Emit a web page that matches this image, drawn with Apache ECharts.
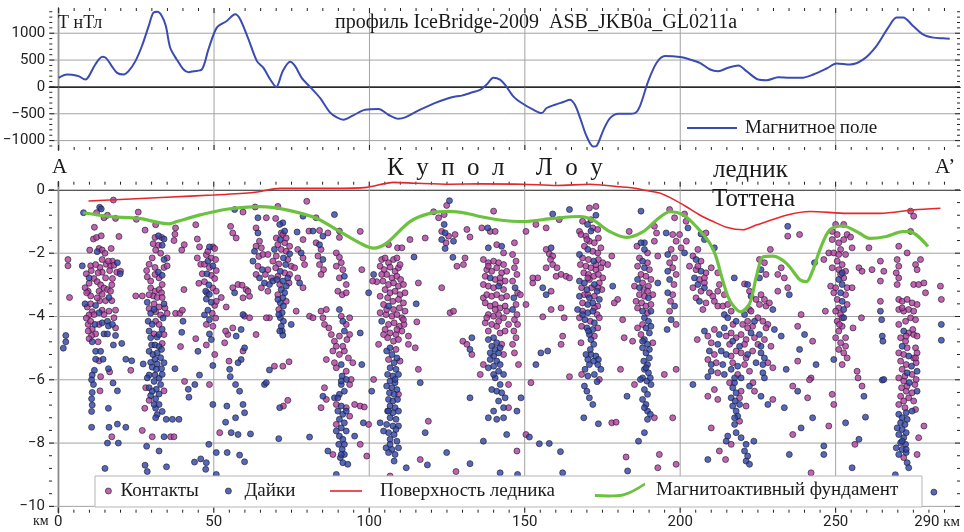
<!DOCTYPE html>
<html><head><meta charset="utf-8">
<script src="https://cdn.jsdelivr.net/npm/echarts@6/dist/echarts.min.js"></script>
<style>html,body{margin:0;padding:0;background:#fff}#c{width:964px;height:532px}</style>
</head><body><div id="c"></div>
<script>
// ---------------- data ----------------
const magKm = [0,2.7,4.3,6.4,8.6,9.6,11.8,14.1,15.3,17.1,18.8,20.9,22.5,24.7,26.8,29,30.5,31.8,33.2,34.5,35.9,38,40.2,41.8,43.4,46.1,48.2,50.9,54.1,56.8,58.4,61.1,63.8,65.9,68.1,70,72.1,74.5,76.1,78.2,80.9,84.1,87.3,89.5,91.6,94.8,98.6,102.9,106.1,109.3,111.5,115.2,120.6,125.4,128.1,129.7,132.4,135.6,137.7,139.9,142,143.6,146.3,149,152.7,155.4,157,159.7,162.4,164.5,166.1,167.8,169.9,172,173.1,175.3,177.4,180.1,183.3,185.4,187,189.7,192.4,195.1,199.9,203.1,206.3,209.6,212.2,215.4,218.7,221.3,225.1,227.8,231.5,235.3,239,242.8,247.1,250.3,254.6,258.9,263.1,266.9,269.6,271.7,274.9,278.1,281.4,284.6,286.7];
const magNT = [169,231,225,200,137,187,418,562,537,387,262,231,293,481,762,1136,1385,1398,1323,1136,730,512,324,275,293,325,699,1105,1229,1354,1261,886,481,356,137,0,293,468,387,169,0,-206,-474,-568,-612,-530,-424,-412,-518,-593,-568,-456,-312,-212,-175,-162,-112,-56,44,169,137,44,-175,-300,-424,-487,-393,-331,-281,-237,-331,-580,-924,-1111,-1098,-799,-580,-499,-499,-487,-362,106,449,574,556,512,449,324,293,356,399,293,137,125,181,169,169,231,343,437,418,512,762,1105,1292,1292,1136,980,918,905,899];

const surfKm = [9.7,34.8,49.8,62.7,71.3,88.4,99.2,107.7,115.2,125.9,135.6,149.5,160.2,170.9,180.6,184.9,189.1,193.4,197.7,202,206.3,210.6,214.9,220.2,224.5,234.4,241.9,253.7,264.4,275.1,283.7];
const surfDepth = [-0.35,-0.23,-0.16,-0.08,0.05,0.05,0.08,0.24,0.21,0.18,0.19,0.18,0.14,0.18,0.10,0.06,-0.02,-0.1,-0.29,-0.53,-0.79,-1.0,-1.18,-1.26,-1.11,-0.79,-0.68,-0.74,-0.74,-0.63,-0.58];

const baseKm = [8.0,16.6,25.9,35.6,38.1,45.6,54.1,64.9,73.4,83.1,90.6,97.0,101.3,105.6,113.1,119.5,125.9,131.3,135.6,142,149.5,159.1,167.7,172,177.4,182.8,188.1,192.4,196.7,201,205.2,209.5,211.5,213.5,216,219.5,222.4,224.5,226.7,229.9,234.2,238.5,240.6,242.7,244.9,248.1,252.4,257.7,260.9,266.3,271.6,273.8,279.7];
const baseDepth = [-0.72,-0.84,-0.9,-1.07,-1.0,-0.79,-0.61,-0.53,-0.63,-0.9,-1.32,-1.68,-1.84,-1.68,-1.0,-0.74,-0.68,-0.74,-0.84,-0.95,-1.0,-0.9,-0.84,-0.95,-1.32,-1.5,-1.32,-0.95,-0.69,-0.79,-1.16,-1.68,-2.1,-2.8,-3.5,-3.85,-3.58,-2.74,-2.11,-2.09,-2.32,-2.84,-2.9,-2.53,-1.9,-1.26,-1.14,-1.37,-1.53,-1.47,-1.32,-1.32,-1.79];

const contacts = [
[3.1,-2.2],[3.1,-2.4],[3.6,-3.4],
[17.7,-0.32],[12.3,-0.72],[14.7,-0.88],[15.8,-0.8],[11.6,-1.18],[18.4,-0.9],[19.5,-1.47],
[11.3,-1.55],[12.3,-1.5],[13.8,-1.45],[10.1,-1.9],[13.1,-1.85],[14.1,-1.9],[15,-2.0],[17,-1.85],
[10.4,-2.4],[10.6,-2.55],[9,-2.65],[9.9,-2.95],[13.4,-2.45],[14.1,-2.6],[15.4,-2.35],[16.8,-2.4],[17.4,-2.25],[16.5,-2.55],[17.4,-2.8],[18.8,-2.6],[11.5,-2.8],[12.5,-2.9],[13.6,-3],[14.7,-3.1],[13.1,-3.2],[14.1,-3.3],[15.8,-3.15],[16.8,-3.2],[17.2,-3],[9.6,-3.2],[10.4,-3.35],[9.3,-3.7],[10.4,-3.6],[10.9,-3.85],[9.9,-3.95],[13.3,-3.5],[14.1,-3.8],[15.2,-3.5],[17.2,-3.5],[18.4,-3.8],
[9,-4.05],[9.6,-4.25],[10.4,-4.15],[10.9,-4.4],[13.1,-4.25],[12,-4.55],[10.7,-4.6],[12.8,-4.8],[9.9,-4.7],[13.1,-5.4],[13.6,-5.9],[16.5,-5.75],[13.4,-6.35],[23.3,-5.7],[17.2,-7.8],
[8.6,-3.09],[9.1,-3.25],[12,-2.36],[12.8,-2.62],[14.1,-2.2],[16.1,-2.25],[17.9,-2.38],[20,-2.57],[15.2,-2.78],[12.5,-3.41],[11.5,-3.94],[14.7,-3.94],[16.3,-3.83],[17.9,-4.04],[18.4,-4.36],[9.6,-4.46],
[25.7,-0.7],[25.1,-0.93],[27.9,-1.27],[31.3,-1.1],[31.1,-1.5],[33.2,-1.5],[30.5,-1.7],[32.2,-1.75],[31.3,-1.9],[32.9,-2],[30.2,-2.15],[35,-2.15],[29.2,-2.35],[28.4,-2.55],[31.1,-2.45],[34,-2.45],[35,-2.4],[28.6,-2.75],[29.7,-3.1],[31.1,-3.2],[32.4,-3.15],[33.2,-3.25],[30.5,-3.35],[31.8,-3.4],[33.4,-3.4],[27,-3.35],[29.2,-3.75],[30.8,-3.6],[32.4,-3.7],[35,-3.9],[31.3,-3.85],[32.9,-3.95],[24.9,-3.35],[37.7,-3.9],[31.3,-4.15],[32.4,-4.25],[30.8,-4.55],[33.4,-4.85],[28.1,-6.25],[34,-6.35],[27.8,-6.9],[29.2,-6.65],[27,-7.6],[30.2,-7.8],[36.1,-7.8],[37.2,-7.8],
[29.2,-3.31],[33.4,-2.99],[32.4,-2.78],[31.1,-2.67],[29.7,-2.88],[34.3,-3.73],[34,-4.57],
[40.5,-1.73],[37.7,-1.2],[37.5,-1.4],[37.2,-1.6],[39.7,-1.9],[44.2,-1.1],[44.7,-1.55],[45.4,-1.8],[44.7,-2.15],[45.8,-2.35],[46.3,-2.65],[45.2,-2.95],[40.4,-3.15],[39.1,-3.9],[39.9,-3.8],[39.3,-4.95],[44.2,-4.7],[40.6,-6.05],
[49.7,-1.8],[50.3,-1.85],[47.6,-2.05],[49.2,-2.15],[47,-2.35],[48.6,-2.45],[50.8,-2.55],[49.2,-2.7],[50.3,-2.8],[47,-2.9],[49.7,-3.1],[50.8,-3.2],[52.4,-3.4],[50.3,-3.65],[49.5,-3.9],[50.6,-4.05],[47.6,-4.25],[47.6,-4.9],[50.3,-5.2],[48.6,-6.15],
[48.1,-1.94],[50.6,-2.2],[47.8,-3.25],[50.8,-3.52],[49.7,-4.31],
[59.4,-0.7],[63.3,-0.54],[70.6,-0.52],[79.9,-0.36],[82.9,-0.88],[55.4,-1.15],[56.1,-1.36],[57.2,-1.52],[66.9,-0.88],[69.9,-0.9],[71.7,-1.36],[78.7,-1.57],[84,-1.28],[80.6,-1.3],[90.4,-1.5],[90.4,-1.3],
[63.6,-1.2],[64.7,-1.62],[63.6,-1.78],[65.3,-1.83],[64.5,-2.1],[65.8,-2.04],[67.4,-2.04],[64.2,-2.41],[63.6,-2.67],[66.6,-2.67],[65.3,-3.09],[67.4,-3.2],
[72.2,-1.41],[72.8,-1.67],[70.6,-1.73],[71.7,-1.88],[73.3,-1.94],[70.1,-2.09],[73.8,-2.2],[69,-2.25],[70.9,-2.34],[74.9,-2.41],[76,-2.46],[72.8,-2.62],[70.6,-2.73],[71.2,-2.99],[70.6,-3.31],[70.9,-3.78],[67.9,-4.04],[66.9,-4.04],[68.5,-2.78],[67.4,-2.52],
[70.1,-1.52],[73.3,-1.52],[74.4,-1.78],[69.9,-2.46],[74.4,-2.67],[74.2,-2.94],[73.3,-3.52],
[77,-1.88],[78.7,-2.15],[79.2,-2.36],[77,-2.78],[78.7,-3.09],[76.5,-3.83],[80.8,-3.99],[81.9,-4.04],
[82.9,-1.67],[84.5,-1.88],[83.5,-2.09],[84,-2.36],[85.3,-2.52],[84.5,-2.67],[86.7,-1.36],[89.4,-1.99],[90.4,-2.13],[91,-2.3],[89.4,-2.41],[91.5,-2.52],[90.4,-2.78],[92.6,-2.99],[89.9,-3.2],[91.3,-3.31],[92.6,-3.25],[84.5,-3.83],[85.1,-4.04],[86.2,-3.78],[91,-3.99],[92.6,-4.25],[93.7,-4.04],[85.6,-4.25],[87,-4.36],[90.4,-4.62],[92.8,-4.73],[93.7,-4.57],[88.8,-4.78],[89.4,-4.94],[88.3,-5.09],[90.4,-5.2],[92,-5.09],[93.3,-5.31],[86.2,-5.36],[94.7,-5.46],[89.4,-5.62],[92.6,-5.73],[93.7,-6.15],[85.6,-6.25],[86.2,-6.62],[89.4,-6.78],[92.6,-6.88],[93.7,-7.15],[89.4,-7.41],[88.3,-8.36],[95.3,-6.78],[94.2,-5.99],[84.5,-6.88],
[88.8,-5.46],[91.5,-4.94],[87.8,-4.57],
[56.1,-3.09],[57.8,-2.99],[60.4,-3.15],[61.5,-3.36],[59.9,-3.99],[61.5,-4.04],[54.5,-4.57],[53.8,-4.46],[56.1,-4.36],[53.5,-4.83],[63.6,-4.57],[59.4,-5.09],[54.9,-5.41],[69.5,-5.57],[72.2,-5.57],[74.2,-5.43],[72.4,-6.83],[73.8,-6.65],[51.9,-7.67],[59.1,-3.01],[61,-3.2],[59.4,-3.41],[54,-3.7],
[97.1,-1.31],[106.2,-1.73],[109.1,-1.83],[110.5,-1.83],[113.1,-1.57],[118,-1.52],[120.7,-0.69],[122.3,-0.88],[124.1,-0.78],[124.9,-0.49],[123.3,-1.31],[125.5,-1.46],[124.7,-1.67],[127.6,-1.41],[131.4,-1.25],[136.2,-1.2],[140,-0.67],[138.9,-1.31],[140.5,-1.31],[141,-1.73],[143.2,-1.99],[132.4,-1.49],
[104,-2.2],[105.1,-2.15],[106.2,-2.3],[107.8,-2.2],[108.9,-2.15],[103.5,-2.41],[104.8,-2.52],[106.7,-2.44],[108.3,-2.57],[109.4,-2.46],[105.6,-2.67],[107.3,-2.78],[108.9,-2.73],[110.1,-2.83],[104.4,-2.88],[106.2,-2.99],[107.8,-2.94],[109.4,-3.04],[111,-2.99],[105.1,-3.15],[106.7,-3.25],[108.3,-3.2],[109.9,-3.31],[111.5,-3.25],[103.5,-3.36],[105.9,-3.41],[107.6,-3.52],[109.4,-3.46],[111,-3.57],[104.6,-3.62],[107.8,-3.78],[109.7,-3.73],[111.5,-3.83],[103.5,-3.88],[105.4,-3.94],[107.3,-3.99],[108.9,-3.94],[110.5,-4.04],[106.2,-4.25],[108,-4.2],[109.7,-4.31],[111.2,-4.25],[105.1,-4.41],[106.7,-4.52],[108.6,-4.57],[110.5,-4.46],[105.9,-4.67],[107.8,-4.78],[109.4,-4.73],[112.6,-4.62],[112.6,-4.88],[108.6,-5.04],[106.2,-5.36],[109.9,-5.41],[109.4,-6.46],[103,-4.88],[102.4,-2.9],[101.1,-2.88],[115.8,-2.94],[115.3,-4.17],[114.8,-4.99],[115.8,-5.67],[119,-7.31],[116.4,-8.52],[106.7,-9.04],[127.9,-8.9],[97.1,-8.04],[99.2,-8.41],[97.6,-2.52],[101.4,-5.99],[97.1,-6.83],[98.4,-6.86],[99.8,-7.41],
[104,-2.67],[109.9,-2.36],[105.6,-3.78],[111,-4.1],[104.6,-4.57],[108.9,-4.41],
[126,-3.88],[127.1,-3.83],[130.1,-4.78],[131.4,-4.88],[133,-5.2],[123.3,-3.09],[130.3,-2.36],[130.8,-2.15],[128.2,-2.41],[136.7,-3.41],
[136.7,-2.2],[138.3,-2.3],[140,-2.25],[141.6,-2.3],[143.2,-2.36],[137.8,-2.52],[139.4,-2.57],[141,-2.46],[142.6,-2.62],[144.2,-2.57],[137.3,-2.73],[140.5,-2.83],[142.1,-2.78],[143.7,-2.88],[136.7,-2.99],[138.3,-3.04],[140,-3.09],[143.2,-3.15],[137.8,-3.31],[139.4,-3.36],[141,-3.31],[142.6,-3.41],[144.2,-3.36],[137.3,-3.57],[138.9,-3.67],[140.5,-3.62],[142.1,-3.73],[143.7,-3.67],[138.3,-3.94],[140,-3.99],[141.6,-3.94],[143.2,-4.04],[137.3,-4.2],[139.4,-4.25],[141,-4.31],[144.8,-4.25],[138.3,-4.46],[142.1,-4.52],[143.7,-4.46],[142.6,-4.88],[143.2,-5.2],[136.7,-5.52],[135.7,-5.83],[144.8,-6.88],[144.8,-6.15],
[138.3,-2.41],[142.1,-2.94],[140.5,-3.78],[144.2,-3.83],[137.8,-4.04],[141.6,-4.15],
[146.7,-1.67],[146.1,-2.04],[147.2,-2.25],[146.7,-2.46],[147.5,-2.67],[146.1,-2.88],[147.7,-3.25],[147.2,-3.62],[147.5,-3.94],[146.7,-4.1],[147.7,-4.25],[146.5,-4.46],[147.2,-4.67],[146.1,-4.88],[146.7,-5.15],[148,-5.52],[148.6,-3.31],
[153.6,-1.09],[156.9,-1.2],[161.1,-0.94],[168.6,-0.99],[170.8,-0.57],[172.9,-0.52],[171.3,-0.94],[171.9,-1.2],[173.5,-1.25],[167.6,-1.31],[183.6,-1.31],[191.7,-1.15],[192.4,-1.36],[191.7,-1.62],[150.4,-1.31],
[156.9,-1.88],[157.9,-2.02],[159,-2.09],[158.3,-2.2],[156.9,-2.46],[159,-2.36],[160.4,-2.46],[161.7,-2.67],[160.1,-2.73],[163.3,-2.73],[164.4,-2.78],[154.2,-2.78],[152.6,-2.94],[158.5,-3.2],[161.7,-3.73],[158.5,-3.78],[150.4,-3.62],[155.8,-4.01],[162.7,-4.04],[162.2,-4.62],[161.7,-4.88],[164.4,-5.9],
[168.1,-1.41],[169.7,-1.46],[170.8,-1.62],[172.4,-1.67],[169.2,-1.78],[171.9,-1.94],[173.5,-1.99],[174.5,-1.83],[168.6,-2.15],[170.5,-2.2],[173.7,-2.2],[175.1,-2.3],[167.9,-2.36],[169.7,-2.41],[171.3,-2.46],[172.9,-2.52],[174.5,-2.46],[169,-2.62],[170.5,-2.67],[172.2,-2.73],[173.7,-2.67],[175.1,-2.78],[170.8,-2.83],[174,-2.94],[168.3,-3.09],[171.5,-3.09],[174.8,-3.15],[169.2,-3.31],[172.4,-3.36],[168.6,-3.57],[173.5,-3.67],[168.6,-3.83],[173.3,-3.94],[167.6,-4.04],[171.1,-4.15],[168.3,-4.31],[173.5,-4.36],[172.4,-4.62],[168.1,-4.83],[168.3,-5.83],[174,-5.99],[178,-7.36],[179.4,-7.34],[176.7,-2.36],[178,-2.09],[179.9,-3.46],[178.8,-3.57],[180.8,-5.67],[181.5,-4.1],[184.7,-4.78],[182,-4.67],
[170,-1.57],[173.7,-1.52],[172.9,-2.36],[170.3,-2.78],[173.5,-3.09],[170.3,-3.31],[172.4,-3.73],[174,-4.04],
[186.1,-1.78],[189.5,-1.99],[186.9,-2.15],[189.5,-2.3],[186.3,-2.41],[190.1,-2.52],[187.4,-2.67],[189,-2.73],[190.6,-2.83],[185.3,-3.04],[188.3,-3.15],[189.8,-3.04],[186.9,-3.31],[188.5,-3.36],[191.2,-3.31],[185.8,-3.52],[187.6,-3.57],[189,-3.67],[190.6,-3.62],[189.5,-3.88],[187.9,-4.25],[187.4,-4.57],[191.2,-4.83],[191.7,-7.2],[185.3,-6.15],[192.8,-2.09],[194.9,-5.83],[193.3,-8.36],[192.8,-8.78],[182.6,-8.44],[152,-6.09],[150.4,-7.73],[147.5,-8.25],[152.6,-2.78],
[187.9,-2.94],[189.5,-3.2],[186.3,-3.73],[186.3,-4.36],
[196.6,-0.62],[198.2,-0.88],[197.6,-1.41],[198.7,-1.62],[197.1,-1.88],[198.2,-2.15],[196.6,-2.3],[197.6,-2.46],[198.7,-2.67],[198,-2.99],[197.6,-3.31],[196.9,-3.52],[196.6,-3.83],[198.7,-4.25],[201.4,-0.76],[201.9,-0.99],[199.8,-1.41],[202,-1.62],[200.3,-1.83],[198.7,-5.67],[197.6,-7.2],[198.7,-8.67],
[208.3,-1.36],[205.7,-1.88],[229,-1.88],[234.6,-1.46],[238.4,-1.41],[238.9,-3.94],
[204.1,-2.09],[206.7,-2.25],[203,-2.41],[205.1,-2.52],[208.3,-2.62],[206.2,-2.83],[207.8,-2.78],[210,-2.46],[212.1,-2.62],[225.5,-2.2],[227.1,-2.3],[227.6,-2.67],[220.7,-2.97],[231.4,-2.67],[232.5,-2.46],[233.5,-2.78],[234.6,-3.09],[231.4,-3.2],
[204.1,-3.09],[206.7,-3.2],[209.4,-3.25],[210.5,-3.36],[212.1,-3.2],[205.1,-3.41],[208.3,-3.57],[211,-3.52],[212.1,-3.67],[213.7,-3.67],[215.3,-3.62],[207.3,-3.78],[222.3,-3.2],[224.4,-3.46],[226,-3.31],[227.1,-3.46],[225.5,-3.62],[227.6,-3.67],[228.7,-3.57],[222.3,-3.78],
[217,-4.25],[220.1,-4.25],[221.7,-4.15],[223.3,-4.31],[225,-4.04],[226.6,-4.15],[228.2,-4.25],[208.9,-4.62],[211,-4.41],[214.8,-4.62],[216.4,-4.52],[218,-4.67],[219.6,-4.57],[221.2,-4.73],[223.9,-4.67],[227.1,-4.73],[205.5,-4.73],[210,-4.83],[215.9,-4.88],[220.7,-4.88],[229.2,-4.94],
[211,-5.2],[216.4,-5.25],[218,-5.09],[219.6,-5.15],[223.3,-5.09],[208.9,-5.36],[211.6,-5.46],[216.9,-5.46],[220.7,-5.52],[228.2,-5.46],[212.1,-5.78],[218.5,-5.83],[229.8,-5.62],[237.8,-5.41],[242.1,-5.94],
[219.6,-6.36],[219.1,-6.57],[223.4,-6.09],[223.9,-6.36],[211,-6.31],[208.9,-6.52],[212.1,-6.62],[221.2,-6.83],[229.8,-6.62],[241.6,-6],
[219.1,-7.31],[216.4,-8.04],[212.6,-8.25],[214.6,-8.52],[236.2,-7.73],[242.1,-8.94],[210,-7.52],
[237.8,-4.31],[242.6,-4.78],[236.2,-6.2],[241,-6.57],
[205.7,-2.41],[207.8,-2.94],[212.6,-2.99],[214.2,-3.31],[216.4,-3.83],[222.8,-3.83],[227.6,-4.36],[221.7,-4.36],[225,-4.88],[221.2,-5.31],[222.3,-5.73],[215.9,-6.09],
[250,-1.09],[252.6,-1.09],[248.9,-1.31],[250.5,-1.41],[248.9,-1.57],[251,-1.67],[252.6,-1.57],[253.7,-1.41],[254.8,-1.49],[255.3,-1.83],[260.7,-1.83],[247.8,-1.99],[249.4,-1.99],[251.6,-1.88],[253.2,-2.04],[246.2,-2.2],[250.5,-2.25],[252.1,-2.36],[251,-2.52],[253.2,-2.57],[257.5,-2.46],[258.5,-2.57],[261.7,-2.52],[265.5,-2.57],[264.4,-2.88],[252.6,-2.78],[248.4,-3.04],[250,-3.09],[253.7,-3.09],[253.2,-3.31],[250.5,-3.46],[253.7,-3.62],[251,-3.73],[250,-3.83],[251.6,-3.94],[250.5,-4.15],[252.1,-4.31],[251,-4.46],[250,-4.67],[251.6,-4.83],[253.2,-4.94],[251,-5.04],[252.6,-5.15],[253.7,-5.31],[255.3,-3.09],[255.6,-4.36],[258.3,-4.04],[246.7,-3.83],[248.9,-6.46],[249.4,-6.78],[256.9,-5.73],[257.2,-5.94],[258.5,-6.2],[247.8,-7.46],[256.2,-8.04],[264.4,-3.52],[264.4,-2.25],
[251,-2.04],[248.9,-2.46],[251.6,-2.67],[249.4,-3.25],[252.1,-4.04],[251.2,-4.25],[253.2,-4.67],[252.1,-5.52],
[269.8,-2.2],[270.3,-2.41],[269.5,-2.62],[270.3,-2.78],[269.8,-2.99],[270.3,-3.46],[271.4,-3.52],[273,-3.46],[274.6,-3.57],[276.2,-3.62],[270.3,-3.78],[271.9,-3.83],[273.5,-3.78],[275.1,-3.83],[272.5,-4.15],[274.1,-4.04],[275.7,-4.1],[270.3,-4.25],[273.5,-4.52],[275.1,-4.57],[276.2,-4.62],[270.9,-4.67],[272.5,-4.78],[273,-4.99],[275.7,-4.99],[270.3,-5.15],[271.9,-5.2],[275.1,-5.31],[276.2,-5.15],[270.9,-5.41],[272.7,-5.52],[275.9,-5.46],[271.4,-5.67],[274.6,-5.83],[270.3,-5.94],[271.9,-6.04],[275.5,-6.15],[271.2,-6.25],[272.7,-6.36],[274.6,-6.41],[270.9,-6.52],[273.5,-6.57],[275.1,-6.67],[270.3,-6.78],[272.3,-6.88],[275.7,-6.94],[271.9,-8.46],[276.7,-7.83],[276.2,-8.36],[278.4,-7.46],
[271.4,-3.73],[274.8,-4.41],[272.7,-4.62],[275.7,-5.31],[272.3,-5.88],[275.9,-5.99],[273,-6.2],[271.9,-6.67],
[274.1,-0.67],[275.1,-0.83],[274.1,-1.31],[270.3,-1.78],[273,-1.99],[275.7,-2.36],[276.2,-2.52],[277.3,-2.2],[275.1,-2.99],[276.7,-2.99],[278.4,-2.94],[278.9,-3.25],
[283.7,-3.04],[284,-3.46]
];

const dikes = [
[2.4,-4.6],[2.4,-4.8],[1.6,-5.0],
[8.1,-0.72],[13.3,-0.55],[13.8,-0.6],[12.5,-1.95],[7.7,-2.4],[19.9,-2.65],[8.6,-3.6],[12,-3.65],[16.3,-3.4],
[11.8,-4.25],[14.1,-4.2],[15.8,-4.15],[16.1,-4.3],[14.7,-4.55],[15.8,-4.55],[10.9,-4.8],[18.4,-4.6],[20.4,-4.85],[17.7,-4.9],[12,-5.1],[13.6,-5.1],[14.4,-5.35],[12,-5.35],[11.6,-5.7],[10.9,-5.85],[10.7,-6],[16.1,-5.65],[11.3,-6.15],[10.9,-6.4],[10.7,-6.6],[10.9,-6.8],[19,-6.35],[17.6,-6.1],[21.7,-5.35],[23.6,-5.4],[10.7,-7],[16.1,-6.9],[10.7,-7.5],[16.3,-7.5],[19,-7.4],[21.7,-7.5],[15.8,-8],[19.3,-8],[15,-8.8],
[9.9,-2.78],[19,-2.3],[13.1,-3.88],[17.4,-4.25],
[32.2,-1.45],[34,-1.55],[33.4,-1.75],[34,-2.2],[32.2,-2.6],[33.4,-2.7],[28.6,-3.55],[34,-3.6],[29.7,-3.9],[33.7,-4.05],[28.9,-4.15],[30.2,-4.25],[33.4,-4.4],[31.8,-4.65],[30,-4.9],[31.1,-4.9],[32.4,-4.95],[29.2,-5.1],[30.4,-5.2],[31.8,-5.15],[32.9,-5.3],[31.1,-5.35],[29.7,-5.45],[30.2,-5.6],[31.8,-5.5],[33.2,-5.65],[27.3,-5.5],[29.2,-5.85],[31.1,-5.85],[32.4,-5.95],[30.8,-6.05],[29.2,-6.25],[31.5,-6.3],[32.4,-6.45],[29.7,-6.5],[31.3,-6.6],[31.3,-6.9],[31.8,-7.1],[37.5,-5.65],[34.7,-7.25],[36.7,-7.25],[38.8,-7.25],[34,-7.8],[28.4,-8.1],[32.4,-8.25],[27.9,-8.7],[28.6,-8.9],[34.8,-8.75],
[30.8,-3.78],[29.2,-4.46],[32.4,-4.57],[29.7,-4.67],[33.2,-5.04],[34,-5.46],[31.5,-5.67],[33.4,-5.83],[30.2,-6.36],[32.9,-6.15],[28.6,-5.94],[30.8,-6.78],[32.4,-6.78],[31.3,-7.2],[33.4,-7],
[40.1,-4.15],[39.7,-4.5],[44.9,-5.1],[41.8,-6.3],[43.9,-6.15],[42,-6.55],[45.4,-5.85],[43.8,-8.6],[45.8,-8.5],
[48.6,-1.8],[48.1,-2.25],[49.7,-2.4],[47.8,-2.65],[48.4,-3],[47.4,-3.2],[48.6,-3.3],[47.6,-3.45],[49.2,-3.55],[48.1,-3.8],[47,-3.95],[48.6,-4.1],[48.6,-4.55],[49.7,-5.55],[49.2,-4.73],
[56.7,-0.62],[78.7,-0.83],[88.8,-0.78],[64.2,-0.88],[72.2,-1.04],[72.8,-1.3],[76.8,-1.33],[81.9,-1.3],[85.1,-1.46],
[64.2,-1.36],[63.1,-1.94],[62.6,-2.25],[65.6,-2.52],[64.7,-2.78],[66.3,-2.94],[67.9,-2.99],[69,-2.88],
[71.2,-1.09],[71.4,-1.57],[69.5,-1.88],[74.4,-2.02],[72.4,-2.15],[73.1,-2.36],[71.4,-2.57],[73.8,-2.78],[72.2,-2.88],[73.3,-3.04],[71.7,-3.15],[72.8,-3.25],[72.2,-3.41],[71.4,-3.57],[72.4,-3.67],[72,-3.88],[71.4,-4.04],[72.4,-4.15],[71.7,-4.31],[72,-4.46],[72.2,-4.59],[74.9,-4.25],
[70.3,-2.83],[70.6,-3.46],[70.9,-3.94],[71.2,-4.46],
[78.1,-1.99],[77.6,-2.94],
[84,-1.73],[85.1,-2.2],[92,-2.73],[90.4,-3.78],[91.5,-4.15],[92,-4.46],[91,-5.52],[91.3,-5.88],[92.6,-5.99],[91,-6.15],[92,-6.36],[90.4,-6.46],[88.8,-6.57],[91,-6.83],[89.9,-6.99],[91.5,-7.09],[90.4,-7.25],[92,-7.36],[91,-7.52],[92.6,-7.62],[90.4,-7.78],[91.5,-7.88],[90.2,-8.04],[91.3,-8.2],[92,-8.36],[90.7,-8.46],[91.5,-8.62],[86.7,-8.25],[93.1,-8.67],[89.4,-8.99],[95.3,-7.78],[85.1,-6.52],
[91,-6.04],[89.9,-6.57],[92.6,-6.99],[89.4,-7.62],[92,-8.04],[91,-8.36],
[56.7,-3.25],[59.4,-3.94],[58.8,-4.41],[57.2,-4.62],[59.9,-4.99],[58.8,-5.36],[57.8,-5.46],[55.1,-5.67],[55.3,-5.9],[67.9,-5.69],[57,-6.15],[58.3,-6.36],[66.3,-6.15],[66.9,-6.09],[49.7,-6.78],[54.2,-6.83],[59.4,-6.78],[71.2,-6.88],[57,-7.2],[59.9,-7.04],[53.8,-7.34],[55.6,-7.67],[57.8,-7.73],[61.8,-7.71],[70.9,-7.86],[80.8,-7.81],[48.4,-8.04],[50.8,-8.3],[54.3,-8.3],[58.3,-8.38],[59.9,-8.59],[47.6,-8.62],[47.4,-8.83],[50.8,-8.99],
[114.4,-2.12],[125.8,-0.34],[124.1,-1.09],[124.4,-1.36],[123.3,-1.57],[127.1,-1.62],[124.4,-1.85],[138.1,-1.2],[138.3,-1.83],[142.6,-1.78],
[106.2,-3.67],[104,-4.15],[106.7,-4.99],[107.3,-5.2],[108.9,-5.31],[108,-5.46],[106.7,-5.62],[108.6,-5.67],[105.9,-5.83],[107.6,-5.88],[109.4,-5.83],[106.7,-6.04],[108.3,-6.09],[105.6,-6.2],[107.3,-6.25],[108.9,-6.31],[106.5,-6.41],[108,-6.46],[106.2,-6.62],[107.6,-6.67],[109.1,-6.62],[106.7,-6.83],[108.3,-6.88],[105.9,-6.99],[107.6,-7.04],[109.4,-6.99],[106.7,-7.2],[108.6,-7.25],[105.6,-7.41],[107.6,-7.46],[109.4,-7.46],[106.2,-7.67],[108,-7.73],[106.7,-7.88],[108.9,-7.94],[105.4,-8.15],[107.3,-8.2],[109.4,-8.15],[106.2,-8.3],[108.3,-8.36],[103.5,-7.36],[104.6,-7.62],[101.4,-2.67],[115.1,-3.6],[116.4,-6.09],[118,-7.67],[124.9,-8.3],[111.9,-8.78],[118.7,-8.69],[132.4,-8.65],[99.8,-3.25],[97.1,-4.52],[97.6,-5.52],[100.8,-6.36],[98.1,-7.36],
[105.6,-5.09],[108.3,-5.99],[106.2,-6.99],[108.6,-7.57],[106.7,-8.04],[108,-8.57],
[132.4,-5.04],[132.4,-6.57],[126.9,-2.13],[133,-4.67],
[138.9,-2.78],[141.6,-3.04],[140,-4.67],[141,-4.83],[139.4,-4.94],[140.5,-5.04],[141.6,-5.15],[140,-5.25],[138.9,-5.36],[141,-5.41],[142.1,-5.52],[140,-5.57],[138.3,-5.62],[141.6,-5.73],[143.2,-5.83],[140.5,-5.94],[139.4,-6.31],[141,-6.36],[142.6,-6.41],[143.7,-6.57],[141.6,-6.67],[143.2,-6.88],[140,-6.99],[138.3,-7.2],[141,-7.25],[143.2,-7.2],[136.7,-7.94],[144.2,-7.73],[142.1,-8.94],
[138.3,-4.73],[142.1,-4.99],[138.9,-5.15],[140,-5.83],[142.1,-6.15],
[146.9,-3.09],[146.5,-3.41],[146.1,-3.78],
[159,-0.76],[164.4,-0.62],[172.9,-0.8],[170.2,-1.09],[187.4,-0.67],[188.5,-1.67],
[158.5,-1.83],[155.8,-3.09],[156.9,-3.31],[157.4,-5.09],[155.2,-5.15],[153.6,-5.52],
[171.3,-1.3],[170.3,-1.88],[167.6,-2.04],[172.2,-2.25],[167.6,-2.88],[169.2,-2.94],[172.4,-2.99],[170,-3.15],[173.3,-3.2],[167.6,-3.36],[170.8,-3.41],[174,-3.46],[170.3,-3.62],[171.9,-3.57],[167,-3.78],[170.3,-3.88],[171.9,-3.83],[169.4,-4.1],[172.4,-4.2],[170,-4.36],[171.9,-4.41],[170.8,-4.57],[171.3,-4.73],[171.3,-5.2],[172.9,-5.25],[172.2,-5.41],[173.7,-5.36],[170.3,-5.36],[170.8,-5.52],[174.5,-5.67],[169.4,-5.67],[170.3,-5.88],[172.4,-5.83],[173.3,-6.06],[169.2,-6.2],[170,-6.36],[170.8,-6.57],[171.9,-6.78],[169,-7.2],[173.7,-7.39],[178.3,-3.04],[182.9,-6.52],
[168.6,-3.94],[170.5,-4.46],[172.2,-4.88],[171.1,-5.04],[169.7,-5.2],[173.5,-5.52],
[187.4,-1.67],[188.5,-1.88],[187.9,-2.25],[188.5,-2.46],[186.3,-2.83],[186.9,-3.09],[189.8,-3.41],[187.9,-3.83],[188.5,-4.04],[189.8,-4.15],[189,-4.36],[190.1,-4.52],[188.5,-4.73],[189.5,-4.88],[187.9,-4.99],[189,-5.15],[190.1,-5.31],[188.3,-5.41],[189.5,-5.52],[188.5,-5.67],[189.8,-5.78],[187.9,-5.94],[189.3,-6.04],[187.2,-5.99],[190.6,-6.15],[188.5,-6.31],[189.5,-6.46],[187.9,-6.62],[189,-6.78],[189.5,-6.99],[189.5,-7.25],[188.5,-7.67],[186.6,-7.94],[192.8,-2.94],[183.1,-8.88],[162.2,-8.94],[161.5,-8.27],[151.5,-7.81],[154.7,-8.02],[157.9,-8.01],[148.8,-6.57],[147.5,-6.99],[147.7,-8.99],
[190.6,-3.83],[190.6,-4.31],[187.9,-4.78],[190.1,-5.04],[189,-5.62],[190.4,-5.94],[188.5,-6.88],[190.4,-7.09],
[195.5,-1.36],[196,-2.04],[196,-2.57],[196.6,-2.83],[196,-3.25],[198.2,-3.67],[197.1,-4.1],[195.8,-4.41],[202.5,-1.2],[201.4,-1.99],
[206.7,-1.39],[207.8,-1.57],[211,-1.83],[217.4,-2.78],[234.6,-1.15],[243.2,-2.3],
[205.1,-2.2],[206.7,-2.57],[204.6,-2.78],[226,-2.52],[225.5,-2.78],[221.7,-2.99],[235.1,-3.31],
[205.7,-2.99],[207.8,-3.09],[206.2,-3.52],[222.8,-3.36],[229.8,-3.78],
[214.2,-3.94],[215.3,-4.04],[218,-4.15],[230.3,-4.41],[207.8,-4.46],[212.6,-4.57],[222.8,-4.52],[225.5,-4.57],[232.5,-4.62],[212.1,-4.88],[219.1,-4.94],[226,-4.94],
[209.4,-5.09],[213.2,-5.09],[221.7,-5.2],[226,-5.15],[227.1,-5.31],[210,-5.52],[213.7,-5.52],[218.5,-5.57],[224.4,-5.46],[226.6,-5.52],[210,-5.73],[208.9,-5.9],[214.2,-5.83],[219.6,-5.94],[226.6,-5.78],[227.1,-5.94],[234.1,-5.67],[238.4,-5.04],[204.1,-6.15],
[217.5,-6.09],[216.9,-6.25],[218,-6.41],[216.4,-6.57],[217.7,-6.67],[216.9,-6.83],[218,-6.99],[222.3,-6.2],[226,-6.52],[228.2,-6.78],[233.5,-6.88],[238.9,-7.52],
[218.5,-7.15],[217.5,-7.41],[218,-7.67],[215.3,-7.78],[214.8,-7.94],[220.7,-8.25],[221.7,-8.41],[221.2,-8.57],[222.3,-8.67],[208.9,-8.52],[223.7,-7.94],[235.1,-8.36],
[240,-4.57],[243.7,-5.52],[237.8,-6.36],[242.6,-7.2],
[220.7,-3.94],[223.9,-4.15],[214.2,-4.36],[216.9,-4.78],[214.8,-5.2],[216.4,-5.67],[217.5,-5.94],[219.1,-6.78],[217.5,-7.2],[219.6,-7.83],[221.2,-8.04],
[252.1,-2.62],[251,-2.83],[252.1,-2.99],[251.6,-3.25],[252.1,-3.52],[252.6,-3.78],[252.6,-4.04],[249.4,-5.36],[259.1,-6.52],[259.6,-7.18],[253.2,-7.36],[257.5,-7.88],[246.2,-8.09],[246.2,-8.36],[255.3,-8.78],[265,-6.01],[264.4,-3.83],[264.8,-4.1],[265,-4.62],[265.2,-4.78],[265.5,-5.99],
[271.9,-4.46],[271.4,-4.94],[273.5,-5.25],[274.4,-5.57],[273,-5.78],[276.2,-5.73],[273.7,-6.09],[276.2,-6.36],[270.3,-7.09],[271.4,-7.2],[272.7,-7.04],[270.9,-7.36],[272.3,-7.41],[269.8,-7.52],[271.4,-7.57],[272.7,-7.67],[270.3,-7.73],[271.9,-7.83],[270.9,-7.99],[272.5,-8.04],[269.5,-8.15],[271.4,-8.2],[272.7,-8.3],[270.3,-8.36],[273,-8.62],[273.5,-8.78],[269.2,-9],
[274.6,-6.99],[273,-7.25],[271.4,-7.94],[272.7,-8.2],
[284,-4.25],[284,-4.75],[281.6,-9.55]
];

// tick values / labels
const xMajorTicks = [0,50,100,150,200,250];
const xLabelValues = [0,50,100,150,200,250,290];
const xMinorTicks = [5,10,15,20,25,30,35,40,45,55,60,65,70,75,80,85,90,95,105,110,115,120,125,130,135,140,145,155,160,165,170,175,180,185,190,195,205,210,215,220,225,230,235,240,245,255,260,265,270,275,280,285];
const magMajorTicks = [-1000,-500,0,500,1000];
const magMinorTicks = [-1100,-900,-800,-700,-600,-400,-300,-200,-100,100,200,300,400,600,700,800,900,1100,1200,1300,1400];
const depthMajorTicks = [-10,-8,-6,-4,-2,0];
const depthMinorTicks = [-9.6,-9.2,-8.8,-8.4,-7.6,-7.2,-6.8,-6.4,-5.6,-5.2,-4.8,-4.4,-3.6,-3.2,-2.8,-2.4,-1.6,-1.2,-0.8,-0.4];

// ---------------- chart ----------------
const X_MIN = -3, X_MAX = 290;
const MAG_MIN = -1175, MAG_MAX = 1470;
const D_MIN = -10.2, D_MAX = 0.26;
const SERIF = '"Liberation Serif", "Times New Roman", serif';
const SANS = 'Roboto, "Liberation Sans", sans-serif';
const FRAME = '#222';
const minus = v => (v < 0 ? '\u2212' + Math.abs(v) : String(v));
const zip = (a, b) => a.map((v, i) => [v, b[i]]);

function frameRenderer(yMin, yMax, yMajor, yMinor, zeroDark) {
  return function (params, api) {
    const ch = [];
    const lb = api.coord([X_MIN, yMin]);
    const rt = api.coord([X_MAX, yMax]);
    const L = lb[0], B = lb[1], R = rt[0], T = rt[1];
    const add = (x1, y1, x2, y2, stroke, w) => ch.push({type: 'line', shape: {x1, y1, x2, y2}, style: {stroke, lineWidth: w}});
    xMajorTicks.forEach(v => {
      const x = api.coord([v, yMin])[0];
      add(x, B, x, T, '#a3a3a3', 1);
      add(x, B, x, B - 5, FRAME, 1);
      add(x, T, x, T + 5, FRAME, 1);
    });
    xMinorTicks.forEach(v => {
      const x = api.coord([v, yMin])[0];
      add(x, B, x, B - 3, FRAME, 1);
      add(x, T, x, T + 3, FRAME, 1);
    });
    yMajor.forEach(v => {
      const y = api.coord([X_MIN, v])[1];
      if (zeroDark && v === 0) add(L, y, R, y, '#333', 1.3);
      else add(L, y, R, y, '#a3a3a3', 1);
      add(L, y, L + 5, y, FRAME, 1);
      add(R, y, R - 5, y, FRAME, 1);
    });
    yMinor.forEach(v => {
      const y = api.coord([X_MIN, v])[1];
      add(L, y, L + 3, y, FRAME, 1);
      add(R, y, R - 3, y, FRAME, 1);
    });
    return {type: 'group', children: ch, silent: true};
  };
}

const axisLineStyle = {show: true, lineStyle: {color: FRAME, width: 1.2}};
function xAx(grid, pos, labels) {
  return {
    gridIndex: grid, type: 'value', position: pos, min: X_MIN, max: X_MAX,
    axisLine: axisLineStyle, axisTick: {show: false}, splitLine: {show: false},
    axisLabel: labels ? {
      show: true, customValues: xLabelValues, margin: 2, alignMaxLabel: 'right',
      fontFamily: SANS, fontSize: 15, color: '#222',
      formatter: v => (v === 290 ? '290 {s|км}' : String(v)),
      rich: {s: {fontFamily: SERIF, fontSize: 15, color: '#222'}}
    } : {show: false}
  };
}
function yAx(grid, pos, min, max, labels) {
  return {
    gridIndex: grid, type: 'value', position: pos, min, max,
    axisLine: axisLineStyle, axisTick: {show: false}, splitLine: {show: false},
    axisLabel: labels ? {show: true, customValues: labels, margin: 4, fontFamily: SANS, fontSize: 15, color: '#222', formatter: minus} : {show: false}
  };
}

const legendText = {fontFamily: SERIF, fontSize: 19, color: '#1a1a1a', lineHeight: 20};
const chart = echarts.init(document.getElementById('c'), null, {renderer: 'canvas'});
chart.setOption({
  animation: false,
  backgroundColor: '#fff',
  title: {
    text: 'профиль IceBridge-2009  ASB_JKB0a_GL0211a', left: 335, top: 13, padding: 0,
    textStyle: {fontFamily: SERIF, fontWeight: 'normal', fontSize: 20, color: '#1a1a1a'}
  },
  grid: [
    {left: 49, right: 4, top: 8, height: 142},
    {left: 49, right: 4, top: 181.7, height: 331}
  ],
  xAxis: [xAx(0, 'bottom', false), xAx(0, 'top', false), xAx(1, 'bottom', true), xAx(1, 'top', false)],
  yAxis: [
    yAx(0, 'left', MAG_MIN, MAG_MAX, magMajorTicks), yAx(0, 'right', MAG_MIN, MAG_MAX, null),
    yAx(1, 'left', D_MIN, D_MAX, depthMajorTicks), yAx(1, 'right', D_MIN, D_MAX, null)
  ],
  legend: [
    {data: ['Магнитное поле'], left: 687, top: 118, padding: 0, itemWidth: 50, itemHeight: 14, selectedMode: false, z: 10,
      icon: 'path://M0,0H50V2H0Z', itemStyle: {borderWidth: 0}, textStyle: Object.assign({padding: [0, 0, 0, 3]}, legendText)},
    {data: ['Контакты'], left: 105, top: 481, padding: 0, itemWidth: 14, itemHeight: 6, icon: 'circle', selectedMode: false, z: 10,
      itemStyle: {borderWidth: 0.8}, textStyle: legendText},
    {data: ['Дайки'], left: 225, top: 481, padding: 0, itemWidth: 22, itemHeight: 6, icon: 'circle', selectedMode: false, z: 10,
      itemStyle: {borderWidth: 0.8}, textStyle: legendText},
    {data: ['Поверхность ледника'], left: 330, top: 481, padding: 0, itemWidth: 32, itemHeight: 14, selectedMode: false, z: 10,
      icon: 'path://M0,0H32V1.6H0Z', itemStyle: {borderWidth: 0}, textStyle: Object.assign({padding: [0, 0, 0, 13]}, legendText)},
    {data: ['Магнитоактивный фундамент'], left: 595, top: 480, padding: 0, itemWidth: 50, itemHeight: 15, selectedMode: false, z: 10,
      icon: 'path://M0,11.5C10,12 20,12.5 28,11C36,9 43,4 50,0L50,3C43,7 36,12 28,14C20,15.2 10,14.8 0,14.5Z',
      itemStyle: {borderWidth: 0}, textStyle: Object.assign({padding: [0, 0, 0, 6]}, legendText)}
  ],
  graphic: [
    {type: 'rect', z: 5, shape: {x: 95, y: 476, width: 827, height: 31}, style: {fill: '#fff', stroke: '#b5b5b5', lineWidth: 1}},
    {type: 'text', z: 6, x: 58, y: 23, style: {text: 'Т нТл', font: '18px ' + SERIF, fill: '#1a1a1a', verticalAlign: 'middle'}},
    {type: 'text', z: 6, x: 52, y: 167, style: {text: 'А', font: '21px ' + SERIF, fill: '#1a1a1a', verticalAlign: 'middle'}},
    {type: 'text', z: 6, x: 387, y: 168, style: {text: 'К  у  п  о  л     Л  о  у', font: '25px ' + SERIF, fill: '#1a1a1a', verticalAlign: 'middle'}},
    {type: 'text', z: 6, x: 713, y: 170, style: {text: 'ледник', font: '25px ' + SERIF, fill: '#1a1a1a', verticalAlign: 'middle'}},
    {type: 'text', z: 6, x: 712, y: 199, style: {text: 'Тоттена', font: '25px ' + SERIF, fill: '#1a1a1a', verticalAlign: 'middle'}},
    {type: 'text', z: 6, x: 935, y: 167, style: {text: 'А’', font: '21px ' + SERIF, fill: '#1a1a1a', verticalAlign: 'middle'}},
    {type: 'text', z: 6, x: 33, y: 521, style: {text: 'км', font: '14px ' + SERIF, fill: '#1a1a1a', verticalAlign: 'middle'}}
  ],
  series: [
    {type: 'custom', name: 'frameTop', xAxisIndex: 0, yAxisIndex: 0, data: [[0, 0]], clip: false, silent: true, z: 1,
      renderItem: frameRenderer(MAG_MIN, MAG_MAX, magMajorTicks, magMinorTicks, true)},
    {type: 'custom', name: 'frameBottom', xAxisIndex: 2, yAxisIndex: 2, data: [[0, 0]], clip: false, silent: true, z: 1,
      renderItem: frameRenderer(D_MIN, D_MAX, depthMajorTicks, depthMinorTicks, false)},
    {type: 'line', name: 'Магнитное поле', xAxisIndex: 0, yAxisIndex: 0, data: zip(magKm, magNT), symbol: 'none', smooth: 0.3,
      color: '#3b4cb0', lineStyle: {color: '#3b4cb0', width: 2}, z: 3},
    {type: 'scatter', name: 'Контакты', xAxisIndex: 2, yAxisIndex: 2, data: contacts, symbol: 'circle', symbolSize: 6, progressive: 0,
      itemStyle: {color: '#b23c9e', borderColor: '#1c1c2c', borderWidth: 0.8}, z: 2},
    {type: 'scatter', name: 'Дайки', xAxisIndex: 2, yAxisIndex: 2, data: dikes, symbol: 'circle', symbolSize: 6, progressive: 0,
      itemStyle: {color: '#2d42a8', borderColor: '#1c1c2c', borderWidth: 0.8}, z: 2},
    {type: 'line', name: 'Поверхность ледника', xAxisIndex: 2, yAxisIndex: 2, data: zip(surfKm, surfDepth), symbol: 'none', smooth: 0.25,
      color: '#e8252b', lineStyle: {color: '#e8252b', width: 1.6}, z: 3},
    {type: 'line', name: 'Магнитоактивный фундамент', xAxisIndex: 2, yAxisIndex: 2, data: zip(baseKm, baseDepth), symbol: 'none', smooth: 0.3,
      color: '#6cc23f', lineStyle: {color: '#6cc23f', width: 3.2}, z: 3}
  ]
});
</script>
</body></html>
